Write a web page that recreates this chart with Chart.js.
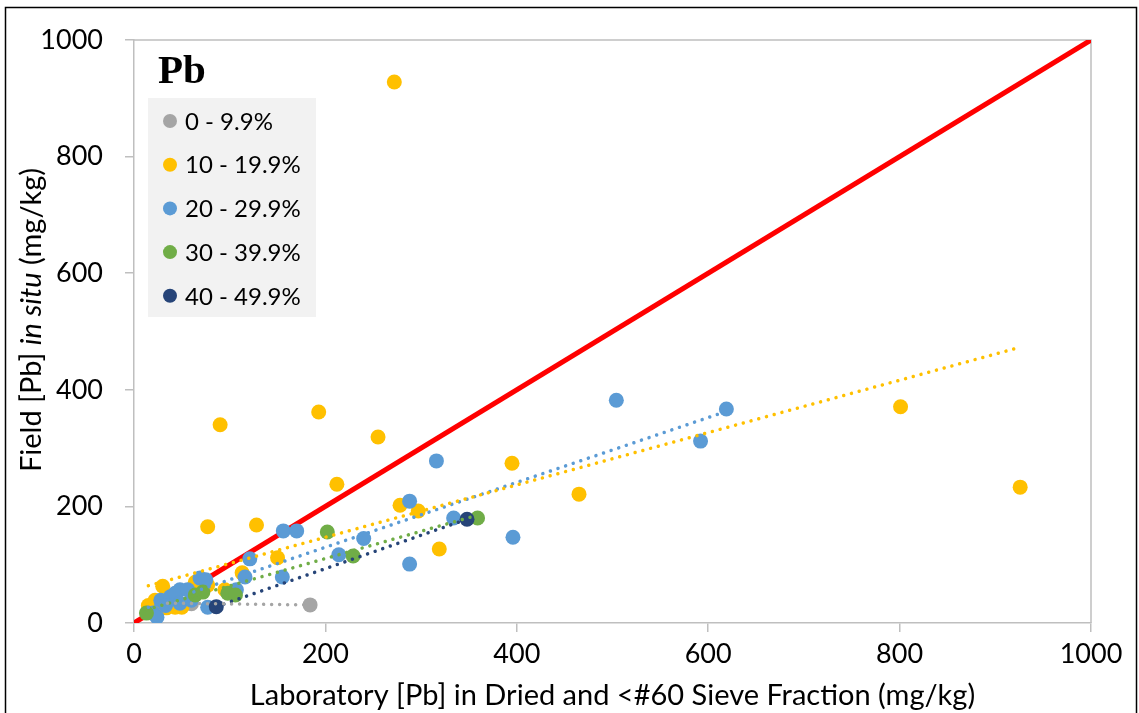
<!DOCTYPE html>
<html>
<head>
<meta charset="utf-8">
<script src="https://cdn.jsdelivr.net/npm/chart.js@4.4.1/dist/chart.umd.min.js"></script>
<style>
  body { margin: 0; background: #fff; }
</style>
</head>
<body>
<canvas id="pbChart" width="1139" height="713"></canvas>
<script>
// valeurs
const seriesLabels = ["0 - 9.9%", "10 - 19.9%", "20 - 29.9%", "30 - 39.9%", "40 - 49.9%"]
const seriesColors = ["#A5A5A5", "#FFC000", "#5B9BD5", "#70AD47", "#264478"]

const grayX = [35, 60, 184]
const grayY = [35, 33, 31]

const yellowX = [272, 90, 193, 255, 212, 77, 128, 150, 113, 278, 297, 395, 465, 319, 801, 926, 30, 22, 24, 34, 43, 50, 60, 77, 95, 64, 15]
const yellowY = [928, 340, 362, 319, 238, 165, 168, 112, 86, 202, 192, 274, 221, 127, 371, 233, 63, 39, 19, 26, 27, 27, 51, 65, 57, 70, 30]

const blueX = [504, 619, 592, 316, 288, 334, 396, 288, 156, 170, 240, 214, 121, 116, 155, 69, 20, 24, 28, 38, 48, 43, 56, 48, 60, 75, 77, 107, 33]
const blueY = [382, 367, 312, 278, 209, 180, 147, 101, 158, 158, 145, 117, 110, 79, 79, 77, 17, 10, 39, 45, 57, 51, 57, 34, 39, 74, 27, 57, 30]

const greenX = [13, 64, 72, 98, 106, 202, 229, 359]
const greenY = [17, 48, 53, 51, 48, 156, 115, 180]

const navyX = [86, 348]
const navyY = [28, 178]

// courbes de tendance (extrémités)
const trendX = [[35, 184], [15, 926], [15, 619], [13, 359], [86, 348]]
const trendY = [[34, 31], [64, 473], [27, 363], [23, 185], [28, 178]]

const refLine = [0, 1000]

const xTicks = [0, 200, 400, 600, 800, 1000]
const yTicks = [0, 200, 400, 600, 800, 1000]

const toPoints = (xs, ys) => xs.map((x, i) => ({ x: x, y: ys[i] }))

const markerSets = [
  toPoints(grayX, grayY),
  toPoints(yellowX, yellowY),
  toPoints(blueX, blueY),
  toPoints(greenX, greenY),
  toPoints(navyX, navyY),
]

const datasets = []

// tendances au-dessus de tout
trendX.forEach((xs, i) => {
  datasets.push({
    label: "trend " + seriesLabels[i],
    data: toPoints(xs, trendY[i]),
    showLine: true,
    borderColor: seriesColors[i],
    borderWidth: 3.5,
    borderDash: [0.01, 8],
    borderCapStyle: "round",
    pointRadius: 0,
    order: 0,
  })
})

// points, le dernier groupe dessiné au-dessus
markerSets.forEach((pts, i) => {
  datasets.push({
    label: seriesLabels[i],
    data: pts,
    backgroundColor: seriesColors[i],
    borderColor: seriesColors[i],
    borderWidth: 0,
    pointRadius: 7.5,
    pointHoverRadius: 7.5,
    order: 5 - i,
  })
})

// droite 1:1
datasets.push({
  label: "1:1",
  data: toPoints(refLine, refLine),
  showLine: true,
  borderColor: "#FF0000",
  borderWidth: 5,
  pointRadius: 0,
  order: 10,
})

const frameAndLegend = {
  id: "frameAndLegend",
  beforeDatasetsDraw(chart) {
    const { ctx, chartArea } = chart
    ctx.save()
    ctx.strokeStyle = "#BFBFBF"
    ctx.lineWidth = 1.5
    ctx.beginPath()
    ctx.moveTo(chartArea.left, chartArea.top)
    ctx.lineTo(chartArea.right, chartArea.top)
    ctx.lineTo(chartArea.right, chartArea.bottom)
    ctx.stroke()
    ctx.restore()
  },
  afterDraw(chart) {
    const ctx = chart.ctx
    ctx.save()

    // cadre noir extérieur
    ctx.strokeStyle = "#000"
    ctx.lineWidth = 1.5
    ctx.strokeRect(5.5, 7.5, 1131, 720)

    // titre Pb
    ctx.fillStyle = "#000"
    ctx.font = 'bold 41px "Liberation Serif"'
    ctx.textBaseline = "alphabetic"
    ctx.textAlign = "left"
    ctx.fillText("Pb", 158, 83)

    // légende
    ctx.fillStyle = "#F2F2F2"
    ctx.fillRect(148, 98, 168, 219)
    ctx.font = "24px Lato"
    ctx.textBaseline = "middle"
    seriesLabels.forEach((label, i) => {
      const cy = 121 + i * 43.7
      ctx.fillStyle = seriesColors[i]
      ctx.beginPath()
      ctx.arc(170, cy, 7, 0, Math.PI * 2)
      ctx.fill()
      ctx.fillStyle = "#000"
      ctx.fillText(label, 185, cy + 1)
    })

    // titre axe Y avec "in situ" en italique
    const parts = [
      { text: "Field [Pb] ", font: "29px Lato" },
      { text: "in situ", font: "italic 29px Lato" },
      { text: " (mg/kg)", font: "29px Lato" },
    ]
    let total = 0
    parts.forEach((p) => {
      ctx.font = p.font
      p.w = ctx.measureText(p.text).width
      total += p.w
    })
    ctx.translate(32, 320)
    ctx.rotate(-Math.PI / 2)
    ctx.textBaseline = "middle"
    ctx.fillStyle = "#000"
    let x = -total / 2
    parts.forEach((p) => {
      ctx.font = p.font
      ctx.fillText(p.text, x, 0)
      x += p.w
    })
    ctx.restore()
  },
}

new Chart(document.getElementById("pbChart").getContext("2d"), {
  type: "scatter",
  data: { datasets: datasets },
  options: {
    responsive: false,
    animation: false,
    layout: { padding: { left: 0, top: 40, right: 48, bottom: 0 } },
    plugins: {
      legend: { display: false },
      tooltip: { enabled: false },
    },
    scales: {
      x: {
        type: "linear",
        min: 0,
        max: 1000,
        afterBuildTicks: (scale) => {
          scale.ticks = xTicks.map((v) => ({ value: v }))
        },
        afterFit: (scale) => {
          scale.height = 90
        },
        grid: { drawOnChartArea: false, color: "#BFBFBF", lineWidth: 1.5, tickLength: 9 },
        border: { color: "#BFBFBF", width: 1.5 },
        ticks: {
          color: "#000",
          font: { family: "Lato", size: 27 },
          padding: 6,
          maxRotation: 0,
          callback: (v) => String(v),
        },
        title: {
          display: true,
          text: "Laboratory [Pb] in Dried and <#60 Sieve Fraction (mg/kg)",
          color: "#000",
          font: { family: "Lato", size: 29 },
          padding: { top: 0, bottom: 0 },
        },
      },
      y: {
        type: "linear",
        min: 0,
        max: 1000,
        afterBuildTicks: (scale) => {
          scale.ticks = yTicks.map((v) => ({ value: v }))
        },
        afterFit: (scale) => {
          scale.width = 134
        },
        grid: { drawOnChartArea: false, color: "#BFBFBF", lineWidth: 1.5, tickLength: 9 },
        border: { color: "#BFBFBF", width: 1.5 },
        ticks: {
          color: "#000",
          font: { family: "Lato", size: 27 },
          padding: 22,
          callback: (v) => String(v),
        },
      },
    },
  },
  plugins: [frameAndLegend],
})
</script>
</body>
</html>
